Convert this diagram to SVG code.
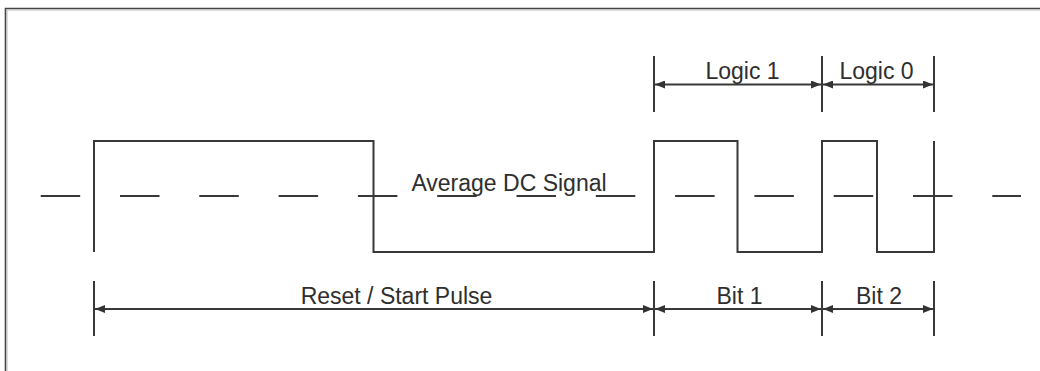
<svg xmlns="http://www.w3.org/2000/svg" width="1040" height="371" viewBox="0 0 1040 371">
<style>
.ln{fill:none;stroke:#383838;stroke-width:2;}
.dash{fill:none;stroke:#383838;stroke-width:2;stroke-dasharray:39.5 39.8;}
.tk{fill:none;stroke:#383838;stroke-width:2;}
.dim{fill:none;stroke:#383838;stroke-width:2;marker-start:url(#ah);marker-end:url(#ah);}
.tx{font-family:"Liberation Sans",Arial,sans-serif;font-size:23px;fill:#2e2e2e;text-anchor:middle;}
</style>
<defs>
<marker id="ah" viewBox="0 0 10 8" refX="10" refY="4" markerWidth="10" markerHeight="8" markerUnits="userSpaceOnUse" orient="auto-start-reverse">
<path d="M0,0 L10,4 L0,8 Z" fill="#333"/>
</marker>
</defs>
<rect width="1040" height="371" fill="#fff"/>
<g id="frame">
<path d="M5.5,371 V8.5 H1040" fill="none" stroke="#444" stroke-width="1.6"/>
<path d="M7,371 V10 H1040" fill="none" stroke="#bbb" stroke-width="1"/>
</g>
<g id="avg-dc-line">
<line class="dash" x1="40.7" y1="196" x2="1021" y2="196"/>
</g>
<g id="waveform">
<path class="ln" d="M94,252 V141 H373.5 V252 H654 V141 H737.5 V252 H822 V141 H877 V252 H934 V141"/>
</g>
<g id="connectors">
<line class="tk" x1="654" y1="56" x2="654" y2="112"/>
<line class="tk" x1="822" y1="56" x2="822" y2="112"/>
<line class="tk" x1="934" y1="56" x2="934" y2="112"/>
<line class="dim" x1="655" y1="84.5" x2="821" y2="84.5"/>
<line class="dim" x1="823" y1="84.5" x2="933" y2="84.5"/>
<line class="tk" x1="94" y1="281" x2="94" y2="336"/>
<line class="tk" x1="654" y1="281" x2="654" y2="336"/>
<line class="tk" x1="822" y1="281" x2="822" y2="336"/>
<line class="tk" x1="934" y1="281" x2="934" y2="336"/>
<line class="dim" x1="95" y1="309" x2="653" y2="309"/>
<line class="dim" x1="655" y1="309" x2="821" y2="309"/>
<line class="dim" x1="823" y1="309" x2="933" y2="309"/>
</g>
<g id="labels">
<text class="tx" x="742.5" y="79">Logic 1</text>
<text class="tx" x="876.5" y="79">Logic 0</text>
<text class="tx" x="509" y="191">Average DC Signal</text>
<text class="tx" x="396.5" y="303.5">Reset / Start Pulse</text>
<text class="tx" x="739.5" y="303.5">Bit 1</text>
<text class="tx" x="879" y="303.5">Bit 2</text>
</g>
</svg>
